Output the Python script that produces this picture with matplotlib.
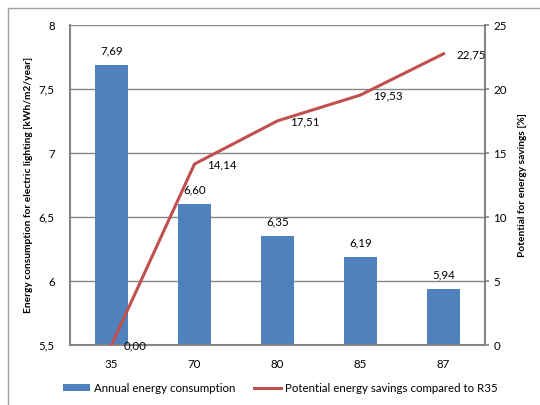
import matplotlib.pyplot as plt
from matplotlib.patches import Rectangle

plt.rcParams['font.family'] = ['Lato', 'DejaVu Sans']

# ratings and their results
categories = ['35', '70', '80', '85', '87']
consumption = [7.69, 6.60, 6.35, 6.19, 5.94]   # kWh/m2/year
savings = [0.00, 14.14, 17.51, 19.53, 22.75]   # %

bar_color = '#4F81BD'
line_color = '#C0504D'
axis_grey = '#868686'

fig = plt.figure(figsize=(5.4, 4.05), dpi=100)

# outer chart border
fig.patches.append(Rectangle((8 / 540, -0.1), 1.2, 1 - 8 / 405 + 0.1,
                             transform=fig.transFigure, fill=False,
                             edgecolor='#A0A0A0', linewidth=1.0))

ax = fig.add_axes([70 / 540, 1 - 345 / 405, 415 / 540, 320 / 405])
x = list(range(len(categories)))

bars = ax.bar(x, [c - 5.5 for c in consumption], bottom=5.5, width=0.4,
              color=bar_color, label='Annual energy consumption', zorder=2)
ax.set_ylim(5.5, 8)
ax.set_xlim(-0.5, len(categories) - 0.5)
ax.set_yticks([5.5, 6, 6.5, 7, 7.5, 8])
ax.set_yticklabels(['5,5', '6', '6,5', '7', '7,5', '8'])
ax.set_xticks(x)
ax.set_xticklabels(categories)
ax.grid(axis='y', color=axis_grey, linewidth=1.0, zorder=0)
ax.tick_params(axis='y', length=0, labelsize=8.3, pad=11)
ax.tick_params(axis='x', length=0, labelsize=8.3, pad=10)
for side in ['top', 'right']:
    ax.spines[side].set_visible(False)
for side in ['left', 'bottom']:
    ax.spines[side].set_color(axis_grey)
    ax.spines[side].set_linewidth(1.5)

for xi, c in zip(x, consumption):
    ax.annotate(f'{c:.2f}'.replace('.', ','), (xi, c), xytext=(0, 10),
                textcoords='offset points', ha='center', va='center', fontsize=8.3)

ax.set_ylabel('Energy consumption for electric lighting [kWh/m2/year]',
              fontsize=7.3, fontweight='bold', labelpad=4)

ax2 = ax.twinx()
line, = ax2.plot(x, savings, color=line_color, linewidth=2.2,
                 label='Potential energy savings compared to R35', zorder=3)
ax2.set_ylim(0, 25)
ax2.set_yticks([0, 5, 10, 15, 20, 25])
ax2.tick_params(axis='y', length=3, width=1.2, color=axis_grey, labelsize=8.3, pad=3)
for side in ['top', 'left', 'bottom']:
    ax2.spines[side].set_visible(False)
ax2.spines['right'].set_color(axis_grey)
ax2.spines['right'].set_linewidth(1.5)

for xi, s in zip(x, savings):
    ax2.annotate(f'{s:.2f}'.replace('.', ','), (xi, s), xytext=(9, -1),
                 textcoords='offset points', ha='left', va='center', fontsize=8.3)

ax2.set_ylabel('Potential for energy savings [%]', fontsize=7.3,
               fontweight='bold', labelpad=8)

fig.legend([bars, line],
           ['Annual energy consumption', 'Potential energy savings compared to R35'],
           loc='center', bbox_to_anchor=(280 / 540, 1 - 388 / 405), ncol=2,
           frameon=False, fontsize=8.3, handlelength=2.4, handleheight=0.6,
           columnspacing=1.6, handletextpad=0.3)

fig.savefig('out.png', dpi=100)
